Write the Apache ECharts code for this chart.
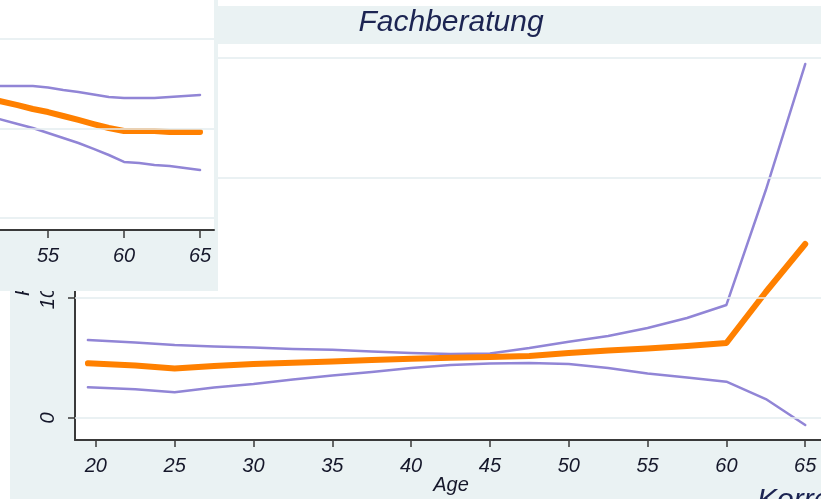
<!DOCTYPE html>
<html>
<head>
<meta charset="utf-8">
<script src="https://cdn.jsdelivr.net/npm/echarts@6/dist/echarts.min.js"></script>
<style>
  html, body { margin:0; padding:0; background:#fff; }
  #wrap { position:relative; width:821px; height:499px; overflow:hidden; background:#fff; }
  #mainBg { position:absolute; left:10px; top:6px; width:811px; height:493px; background:#eaf2f3; }
  #main { position:absolute; left:0; top:0; width:821px; height:499px; }
  #inset { position:absolute; left:0; top:0; width:218px; height:291px; background:#eaf2f3; z-index:5; }
</style>
</head>
<body>
<div id="wrap">
  <div id="mainBg"></div>
  <div id="main"></div>
  <div id="inset"></div>
</div>
<script>
// ---- Main panel "Fachberatung" ----
const mainTitle = 'Fachberatung';
const mainXName = 'Age';
const mainYName = 'Prozent';
const mainAges  = [19.5, 22.5, 25, 27.5, 30, 32.5, 35, 37.5, 40, 42.5, 45, 47.5, 50, 52.5, 55, 57.5, 60, 62.5, 65];
const mainUpper = [6.5, 6.29, 6.08, 5.96, 5.88, 5.75, 5.69, 5.54, 5.42, 5.33, 5.38, 5.83, 6.36, 6.83, 7.5, 8.33, 9.42, 19.0, 29.5];
const mainEst   = [4.56, 4.38, 4.13, 4.33, 4.5, 4.61, 4.71, 4.83, 4.94, 5.03, 5.08, 5.17, 5.42, 5.63, 5.79, 6.0, 6.25, 10.5, 14.5];
const mainLower = [2.56, 2.39, 2.14, 2.54, 2.83, 3.21, 3.54, 3.83, 4.17, 4.42, 4.54, 4.58, 4.5, 4.17, 3.71, 3.38, 3.03, 1.58, -0.58];
const mainXTicks = [20, 25, 30, 35, 40, 45, 50, 55, 60, 65];
const mainYTicks = [0, 10, 20, 30];
const footText = 'Korrelation';

// ---- Inset panel ----
const insetAges  = [51.8, 53, 54, 55, 56, 57, 58, 59, 60, 61, 62, 63, 64, 65];
const insetUpper = [7.37, 7.37, 7.37, 7.29, 7.15, 7.04, 6.9, 6.76, 6.7, 6.7, 6.7, 6.76, 6.82, 6.87];
const insetEst   = [6.54, 6.31, 6.09, 5.92, 5.7, 5.48, 5.25, 5.03, 4.86, 4.86, 4.86, 4.8, 4.8, 4.8];
const insetLower = [5.53, 5.25, 5.03, 4.75, 4.47, 4.19, 3.86, 3.52, 3.13, 3.07, 2.96, 2.91, 2.79, 2.68];
const insetXTicks = [55, 60, 65];
const insetYTicks = [0, 5, 10];

const PURPLE = '#9185d6';
const ORANGE = '#ff8000';
const GRID = '#e3ecef';
const AXIS = '#3a3a3a';
const TXT = '#15172a';
const FONT = '"Liberation Sans", Arial, sans-serif';

function zip(xs, ys) { return xs.map((x, i) => [x, ys[i]]); }

function gridSeries(ticks) {
  return {
    type: 'line', data: [], z: 1, silent: true,
    markLine: {
      silent: true, symbol: 'none', animation: false,
      label: { show: false },
      lineStyle: { color: GRID, width: 1.5, type: 'solid' },
      data: ticks.map(v => ({ yAxis: v }))
    }
  };
}

function lineSeries(data, color, width, z) {
  return {
    type: 'line', data: data, showSymbol: false, symbol: 'none', z: z,
    animation: false, clip: true,
    lineStyle: { color: color, width: width, cap: 'round', join: 'round' }
  };
}

const main = echarts.init(document.getElementById('main'), null, { renderer: 'canvas' });
main.setOption({
  animation: false,
  grid: { left: 75, top: 44, width: 752, height: 396, show: true, backgroundColor: '#ffffff', borderWidth: 0, containLabel: false },
  xAxis: {
    type: 'value', min: 18.68, max: 66.0,
    axisLine: { show: true, onZero: false, lineStyle: { color: AXIS, width: 2 } },
    axisTick: { show: true, length: 7, customValues: mainXTicks, lineStyle: { color: AXIS, width: 1.5 } },
    axisLabel: { customValues: mainXTicks, fontStyle: 'italic', fontSize: 20, fontFamily: FONT, color: TXT, margin: 16 },
    splitLine: { show: false }
  },
  yAxis: {
    type: 'value', min: -1.833, max: 31.167,
    axisLine: { show: true, onZero: false, lineStyle: { color: AXIS, width: 2 } },
    axisTick: { show: true, length: 7, customValues: mainYTicks, lineStyle: { color: AXIS, width: 1.5 } },
    axisLabel: { customValues: mainYTicks, rotate: 90, fontStyle: 'italic', fontSize: 20, fontFamily: FONT, color: TXT, margin: 17 },
    splitLine: { show: false }
  },
  graphic: [
    { type: 'text', x: 451, y: 23, z: 100,
      style: { text: mainTitle, fill: '#1c2452', font: 'italic 30px ' + FONT, textAlign: 'center', textVerticalAlign: 'middle' } },
    { type: 'text', x: 451, y: 485, z: 100,
      style: { text: mainXName, fill: TXT, font: 'italic 20px ' + FONT, textAlign: 'center', textVerticalAlign: 'middle' } },
    { type: 'text', x: 23, y: 296, rotation: Math.PI / 2, z: 100,
      style: { text: mainYName, fill: TXT, font: 'italic 20px ' + FONT, textAlign: 'left', textVerticalAlign: 'middle' } },
    { type: 'text', x: 757, y: 486, z: 100,
      style: { text: footText, fill: '#1c2452', font: 'italic 30px ' + FONT, textAlign: 'left', textVerticalAlign: 'top' } }
  ],
  series: [
    gridSeries(mainYTicks),
    lineSeries(zip(mainAges, mainUpper), PURPLE, 2.5, 3),
    lineSeries(zip(mainAges, mainLower), PURPLE, 2.5, 3),
    lineSeries(zip(mainAges, mainEst), ORANGE, 6, 4)
  ]
});

const inset = echarts.init(document.getElementById('inset'), null, { renderer: 'canvas' });
inset.setOption({
  animation: false,
  grid: { left: 0, top: 0, width: 214, height: 230, show: true, backgroundColor: '#ffffff', borderWidth: 0, containLabel: false },
  xAxis: {
    type: 'value', min: 51.84, max: 65.92,
    axisLine: { show: true, onZero: false, lineStyle: { color: AXIS, width: 2 } },
    axisTick: { show: true, length: 8, customValues: insetXTicks, lineStyle: { color: AXIS, width: 1.5 } },
    axisLabel: { customValues: insetXTicks, fontStyle: 'italic', fontSize: 20, fontFamily: FONT, color: TXT, margin: 16 },
    splitLine: { show: false }
  },
  yAxis: {
    type: 'value', min: -0.67, max: 12.18,
    axisLine: { show: false, onZero: false }, axisTick: { show: false }, axisLabel: { show: false },
    splitLine: { show: false }
  },
  series: [
    gridSeries(insetYTicks),
    lineSeries(zip(insetAges, insetUpper), PURPLE, 2.5, 3),
    lineSeries(zip(insetAges, insetLower), PURPLE, 2.5, 3),
    lineSeries(zip(insetAges, insetEst), ORANGE, 6, 4)
  ]
});
</script>
</body>
</html>
